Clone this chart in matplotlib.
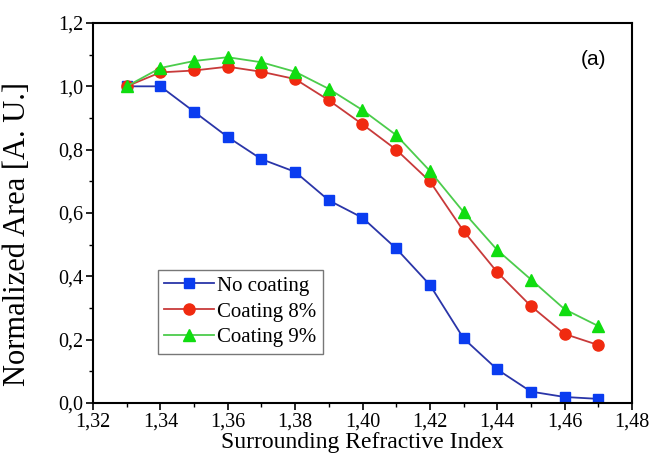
import numpy as np
import matplotlib
matplotlib.use('Agg')
import matplotlib.pyplot as plt
from matplotlib.ticker import MultipleLocator, FuncFormatter

# surrounding refractive index and normalized area for each fibre
n_sri = [1.33, 1.34, 1.35, 1.36, 1.37, 1.38, 1.39, 1.40,
         1.41, 1.42, 1.43, 1.44, 1.45, 1.46, 1.47]
no_coating = [1.0, 1.0, 0.92, 0.84, 0.77, 0.73, 0.64, 0.585,
              0.488, 0.373, 0.204, 0.106, 0.036, 0.019, 0.013]
coating_8 = [1.0, 1.044, 1.05, 1.062, 1.046, 1.023, 0.956, 0.88,
             0.80, 0.70, 0.543, 0.413, 0.306, 0.218, 0.183]
coating_9 = [1.0, 1.058, 1.08, 1.092, 1.076, 1.046, 0.992, 0.925,
             0.846, 0.733, 0.603, 0.483, 0.39, 0.296, 0.243]

serif = 'Liberation Serif'

fig = plt.figure(figsize=(6.52, 4.62), dpi=100)
ax = fig.add_axes([93/652, 1-403/462, 539/652, 380/462])

ax.plot(n_sri, no_coating, '-', color='#2a35a8', lw=1.3, marker='s', ms=7,
        mfc='#0a3cf0', mec='#0a3cf0', label='No coating')
ax.plot(n_sri, coating_8, '-', color='#c83a3a', lw=1.3, marker='o', ms=8,
        mfc='#f02a10', mec='#f02a10', label='Coating 8%')
ax.plot(n_sri, coating_9, '-', color='#4ccc4c', lw=1.3, marker='^', ms=8,
        mfc='#10dd10', mec='#10dd10', label='Coating 9%')

ax.set_xlim(1.32, 1.48)
ax.set_ylim(0.0, 1.2)
ax.xaxis.set_major_locator(MultipleLocator(0.02))
ax.xaxis.set_minor_locator(MultipleLocator(0.01))
ax.yaxis.set_major_locator(MultipleLocator(0.2))
ax.yaxis.set_minor_locator(MultipleLocator(0.1))
# decimal comma on both axes
ax.xaxis.set_major_formatter(FuncFormatter(lambda v, p: ('%.2f' % v).replace('.', ',')))
ax.yaxis.set_major_formatter(FuncFormatter(lambda v, p: ('%.1f' % v).replace('.', ',')))
ax.tick_params(which='major', direction='out', length=5, width=1.2, labelsize=14.5, pad=2)
ax.tick_params(which='minor', direction='out', length=3, width=1.0)
for lab in ax.get_xticklabels() + ax.get_yticklabels():
    lab.set_fontfamily(serif)
for s in ax.spines.values():
    s.set_linewidth(1.5)

ax.set_xlabel('Surrounding Refractive Index', fontsize=17, family=serif, labelpad=0)
ax.set_ylabel('Normalized Area [A. U.]', fontsize=22, family=serif)
ax.yaxis.set_label_coords(-0.113, 0.445)

ax.text(0.953, 0.903, '(a)', transform=ax.transAxes, ha='right', va='center',
        fontsize=15, family='Liberation Sans')

leg = ax.legend(loc='lower left', bbox_to_anchor=(0.12, 0.13), fancybox=False,
                prop={'family': serif, 'size': 15}, handlelength=2.4,
                handletextpad=0.15, borderpad=0.3, labelspacing=0.3,
                borderaxespad=0)
leg.get_frame().set_edgecolor('#555555')
leg.get_frame().set_linewidth(1.0)

fig.savefig('out.png', dpi=100)
